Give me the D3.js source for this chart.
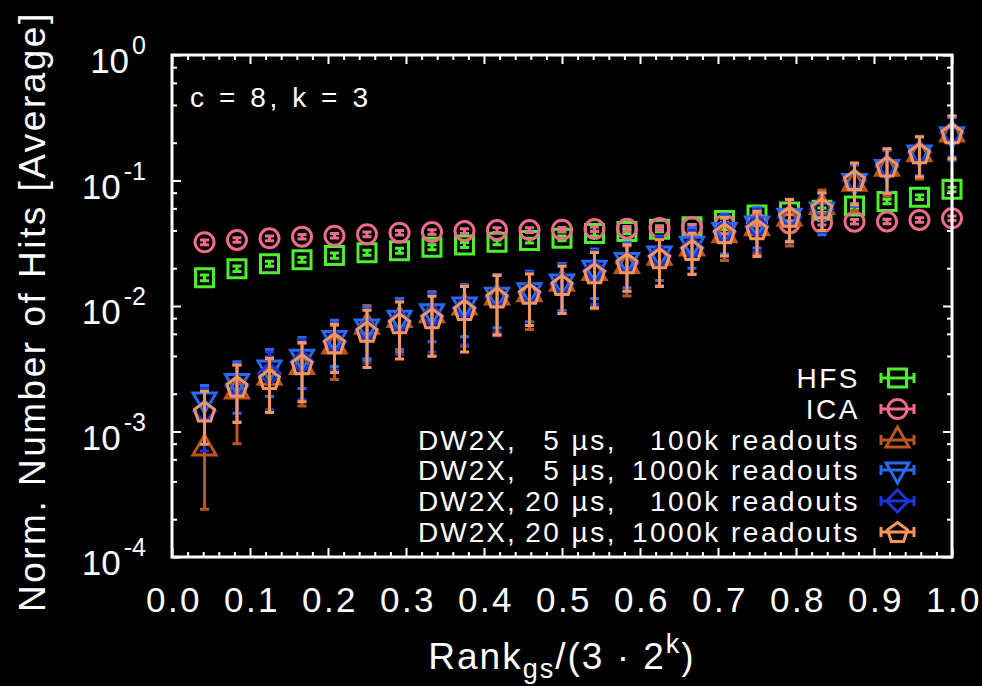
<!DOCTYPE html>
<html><head><meta charset="utf-8">
<script src="https://cdn.jsdelivr.net/npm/d3@7"></script>
<style>
html,body{margin:0;padding:0;background:#000;}
svg{display:block;}
text{font-family:"Liberation Sans",Arial,sans-serif;fill:#fff;}
</style></head>
<body>
<svg id="chart" width="982" height="686"></svg>
<script>
// ---------- data ----------
const rankFrac = [0.0417,0.0833,0.125,0.1667,0.2083,0.25,0.2917,0.3333,0.375,0.4167,0.4583,0.5,
                  0.5417,0.5833,0.625,0.6667,0.7083,0.75,0.7917,0.8333,0.875,0.9167,0.9583,1.0];

const hfs    = [0.0168,0.0198,0.0217,0.0234,0.0252,0.0266,0.0276,0.0294,0.0306,0.0322,0.0332,0.0346,
                0.0378,0.0392,0.0408,0.0428,0.048,0.053,0.056,0.058,0.0626,0.068,0.0735,0.085];
const hfsErr = [0.0009,0.001,0.001,0.0011,0.0012,0.0012,0.0013,0.0013,0.0014,0.0014,0.0015,0.0015,
                0.0016,0.0016,0.0017,0.0018,0.002,0.0022,0.0023,0.0024,0.0026,0.0028,0.003,0.0035];

const ica    = [0.0322,0.0336,0.0346,0.0357,0.0363,0.0373,0.0384,0.0389,0.0396,0.0403,0.0403,0.0405,
                0.041,0.0413,0.0418,0.0425,0.0445,0.0455,0.0455,0.046,0.047,0.0472,0.0485,0.050];
const icaErr = [0.0014,0.0014,0.0015,0.0015,0.0015,0.0016,0.0016,0.0016,0.0017,0.0017,0.0017,0.0017,
                0.0017,0.0017,0.0018,0.0018,0.0019,0.0019,0.0019,0.0019,0.002,0.002,0.002,0.0021];

const dw5_100k     = [0.00074,0.0021,0.0027,0.0033,0.0048,0.0069,0.0078,0.0085,0.0098,0.0118,0.0125,0.0152,
                      0.0185,0.021,0.0245,0.029,0.037,0.042,0.050,0.062,0.095,0.125,0.163,0.235];
const dw5_100kErr  = [0.0005,0.0013,0.0012,0.0017,0.0022,0.0032,0.0035,0.0045,0.005,0.006,0.006,0.0065,
                      0.009,0.009,0.01,0.011,0.014,0.016,0.02,0.022,0.038,0.05,0.06,0.09];

const dw5_1000k    = [0.00178,0.0025,0.0032,0.0039,0.0055,0.0068,0.0080,0.0090,0.0102,0.0122,0.0132,0.0155,
                      0.020,0.023,0.026,0.031,0.040,0.045,0.052,0.058,0.098,0.127,0.166,0.232];
const dw5_1000kErr = [0.00055,0.0011,0.0013,0.0017,0.0022,0.003,0.0035,0.0038,0.0045,0.0055,0.0057,0.0063,
                      0.0085,0.009,0.01,0.011,0.014,0.016,0.019,0.021,0.036,0.048,0.057,0.085];

const dw20_100k    = [0.00145,0.0023,0.0029,0.0036,0.0052,0.0064,0.0075,0.0083,0.0096,0.0118,0.0128,0.015,
                      0.019,0.022,0.025,0.029,0.039,0.043,0.051,0.059,0.100,0.13,0.167,0.24];
const dw20_100kErr = [0.00075,0.0011,0.0014,0.0018,0.0021,0.0029,0.0034,0.004,0.0047,0.0056,0.0058,0.0062,
                      0.0087,0.009,0.0105,0.011,0.014,0.016,0.019,0.02,0.036,0.049,0.058,0.085];

const dw20_1000k    = [0.00144,0.00228,0.00262,0.00343,0.00505,0.00624,0.00728,0.00798,0.0093,0.0117,0.0125,0.0147,
                       0.0182,0.0219,0.024,0.0279,0.038,0.0408,0.0515,0.060,0.101,0.129,0.165,0.238];
const dw20_1000kErr = [0.00065,0.0011,0.0012,0.0017,0.0021,0.003,0.0035,0.004,0.005,0.0058,0.0055,0.006,
                       0.0085,0.0088,0.0097,0.0101,0.013,0.016,0.019,0.02,0.037,0.05,0.058,0.088];

const xTickLabels = ["0.0","0.1","0.2","0.3","0.4","0.5","0.6","0.7","0.8","0.9","1.0"];
const yTickExps   = ["0","-1","-2","-3","-4"];

const series = [
  {name:"HFS", vals:hfs, errs:hfsErr, color:"#4cf02c", shape:"square"},
  {name:"ICA", vals:ica, errs:icaErr, color:"#f06a8a", shape:"circle"},
  {name:["DW2X,","5 \u00b5s,","100k readouts"],  vals:dw5_100k,  errs:dw5_100kErr,  color:"#b8561f", shape:"triUp"},
  {name:["DW2X,","5 \u00b5s,","1000k readouts"], vals:dw5_1000k, errs:dw5_1000kErr, color:"#2a6af2", shape:"triDown"},
  {name:["DW2X,","20 \u00b5s,","100k readouts"], vals:dw20_100k, errs:dw20_100kErr, color:"#1a36d6", shape:"diamond"},
  {name:["DW2X,","20 \u00b5s,","1000k readouts"],vals:dw20_1000k,errs:dw20_1000kErr,color:"#f7955a", shape:"pentagon"}
];

// ---------- layout ----------
const L=172, R=952, T=55, B=557;
const svg = d3.select("#chart");
svg.append("rect").attr("width",982).attr("height",686).attr("fill","#000");

const x = d3.scaleLinear().domain([0,1]).range([L,R]);
const y = d3.scaleLog().domain([1e-4,1]).range([B,T]);

function shapePath(s){
  if(s==="square") return "M-9,-9H9V9H-9Z";
  if(s==="circle") return d3.arc()({innerRadius:0,outerRadius:9.5,startAngle:0,endAngle:2*Math.PI});
  if(s==="triUp") return "M0,-13L11.5,7L-11.5,7Z";
  if(s==="triDown") return "M0,13L11.5,-7L-11.5,-7Z";
  if(s==="diamond") return "M0,-11L11,0L0,11L-11,0Z";
  if(s==="pentagon"){
    const r=10.5, pts=[];
    for(let k=0;k<5;k++){const a=-Math.PI/2+k*2*Math.PI/5; pts.push([r*Math.cos(a), r*Math.sin(a)+1]);}
    return "M"+pts.map(p=>p.join(",")).join("L")+"Z";
  }
}

// ---------- axes (ticks inward) ----------
function styleAxis(g){
  g.select(".domain").remove();
  g.selectAll("line").attr("stroke","#fff").attr("stroke-width",2);
  g.selectAll("text").remove();
}
const majorX = d3.range(0,1.0001,0.1);
const minorX = d3.range(0,1.0001,0.02).filter(v=>Math.abs(v*10-Math.round(v*10))>1e-6);
svg.append("g").attr("transform",`translate(0,${B})`).call(d3.axisBottom(x).tickValues(majorX).tickSize(-9)).call(styleAxis);
svg.append("g").attr("transform",`translate(0,${B})`).call(d3.axisBottom(x).tickValues(minorX).tickSize(-5)).call(styleAxis);
svg.append("g").attr("transform",`translate(0,${T})`).call(d3.axisTop(x).tickValues(majorX).tickSize(-9)).call(styleAxis);
svg.append("g").attr("transform",`translate(0,${T})`).call(d3.axisTop(x).tickValues(minorX).tickSize(-5)).call(styleAxis);

const majorY = [1,1e-1,1e-2,1e-3,1e-4];
const minorY = [];
[1e-4,1e-3,1e-2,1e-1].forEach(d=>[2,4,6,8].forEach(m=>minorY.push(d*m)));
svg.append("g").attr("transform",`translate(${L},0)`).call(d3.axisLeft(y).tickValues(majorY).tickSize(-9)).call(styleAxis);
svg.append("g").attr("transform",`translate(${L},0)`).call(d3.axisLeft(y).tickValues(minorY).tickSize(-5)).call(styleAxis);
svg.append("g").attr("transform",`translate(${R},0)`).call(d3.axisRight(y).tickValues(majorY).tickSize(-9)).call(styleAxis);
svg.append("g").attr("transform",`translate(${R},0)`).call(d3.axisRight(y).tickValues(minorY).tickSize(-5)).call(styleAxis);

// tick labels
svg.append("g").selectAll("text").data(xTickLabels).join("text")
  .attr("x",(d,i)=>x(majorX[i])+2).attr("y",612).attr("text-anchor","middle")
  .attr("font-size",35).attr("letter-spacing",2.5).text(d=>d);

const yl = svg.append("g").selectAll("text").data(yTickExps).join("text")
  .attr("x",146).attr("y",(d,i)=>y(majorY[i])+18).attr("text-anchor","end").attr("font-size",35);
yl.append("tspan").text("10");
yl.append("tspan").attr("font-size",25).attr("dy",-19).attr("dx",3).text(d=>d);

// axis titles
svg.append("text").attr("transform","translate(45,612) rotate(-90)")
  .attr("font-size",37).attr("letter-spacing",2.5).text("Norm. Number of Hits [Average]");

const xt = svg.append("text").attr("x",562).attr("y",669).attr("text-anchor","middle")
  .attr("font-size",37).attr("letter-spacing",2);
xt.append("tspan").text("Rank");
xt.append("tspan").attr("font-size",27).attr("dy",9).text("gs");
xt.append("tspan").attr("dy",-9).text("/(3 \u00b7 2");
xt.append("tspan").attr("font-size",27).attr("dy",-16).text("k");
xt.append("tspan").attr("dy",16).text(")");

svg.append("text").attr("x",190).attr("y",107).attr("font-size",28)
  .attr("textLength",178).attr("lengthAdjust","spacing").text("c = 8, k = 3");

// ---------- data marks ----------
const capW = 4.5;
series.forEach(s=>{
  const g = svg.append("g");
  const pts = s.vals.map((v,i)=>({x:rankFrac[i], v, e:s.errs[i]}));
  const eb = g.append("g").attr("stroke",s.color).attr("stroke-width",3).attr("fill","none");
  eb.selectAll("path").data(pts).join("path")
    .attr("d",d=>{
      const cx=x(d.x), y1=y(d.v+d.e), y0=y(Math.max(d.v-d.e,1.01e-4));
      return `M${cx},${y0}V${y1}M${cx-capW},${y0}H${cx+capW}M${cx-capW},${y1}H${cx+capW}`;
    });
  g.append("g").selectAll("path").data(pts).join("path")
    .attr("transform",d=>`translate(${x(d.x)},${y(d.v)})`)
    .attr("d",shapePath(s.shape)).attr("fill","none").attr("stroke",s.color).attr("stroke-width",3);
});

// ---------- legend ----------
const legRowY = [378,409,440,470,501,532];
const leg = svg.append("g");
const lfs = 28, lls = 2.5;
series.forEach((s,i)=>{
  const cy = legRowY[i];
  const base = cy+10;
  if(typeof s.name==="string"){
    leg.append("text").attr("x",860).attr("y",base).attr("text-anchor","end")
      .attr("font-size",lfs).attr("letter-spacing",lls).text(s.name);
  } else {
    leg.append("text").attr("x",418).attr("y",base).attr("font-size",lfs).attr("letter-spacing",2).text(s.name[0]);
    leg.append("text").attr("x",617).attr("y",base).attr("text-anchor","end").attr("font-size",lfs).attr("letter-spacing",lls).text(s.name[1]);
    leg.append("text").attr("x",860).attr("y",base).attr("text-anchor","end").attr("font-size",lfs).attr("letter-spacing",lls).text(s.name[2]);
  }
  const sx0=881, sx1=914, mid=(sx0+sx1)/2;
  leg.append("path").attr("d",`M${sx0},${cy}H${sx1}M${sx0},${cy-5}V${cy+5}M${sx1},${cy-5}V${cy+5}`)
    .attr("stroke",s.color).attr("stroke-width",3).attr("fill","none");
  leg.append("path").attr("transform",`translate(${mid},${cy})`).attr("d",shapePath(s.shape))
    .attr("fill","none").attr("stroke",s.color).attr("stroke-width",3);
});

// frame
svg.append("rect").attr("x",L).attr("y",T).attr("width",R-L).attr("height",B-T)
  .attr("fill","none").attr("stroke","#fff").attr("stroke-width",3);
</script>
</body></html>
